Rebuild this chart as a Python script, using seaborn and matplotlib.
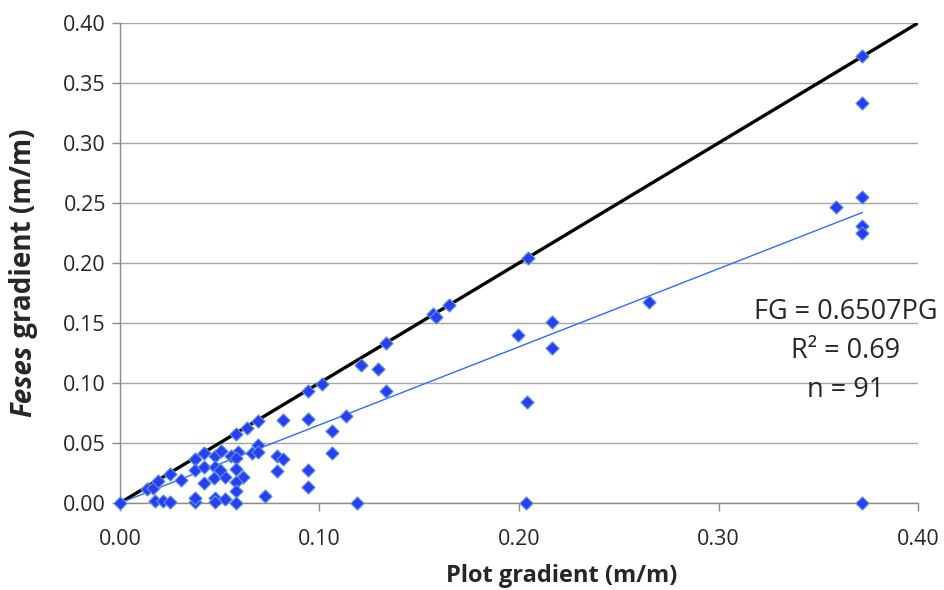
import numpy as np
import pandas as pd
import matplotlib
matplotlib.use("Agg")
import matplotlib.pyplot as plt
from matplotlib.ticker import MultipleLocator, FormatStrFormatter
import seaborn as sns

# plot gradient (x) and feses gradient (y)
plot_gradient = [
    0.000, 0.0137, 0.0167, 0.0192, 0.0251, 0.0304, 0.0376, 0.0423, 0.0376, 0.0423,
    0.0423, 0.0478, 0.0505, 0.0476, 0.0471, 0.0526, 0.0501, 0.0581, 0.0635, 0.0690,
    0.0593, 0.0556, 0.0581, 0.0581, 0.0618, 0.0581, 0.0581, 0.0660, 0.0690, 0.0690,
    0.0727, 0.0175, 0.0214, 0.0251, 0.0376, 0.0376, 0.0478, 0.0478, 0.0526, 0.0581,
    0.1333, 0.1208, 0.1295, 0.1333, 0.1011, 0.0944, 0.0815, 0.0944, 0.1133, 0.1061,
    0.0789, 0.0819, 0.0789, 0.1061, 0.0944, 0.0944, 0.1186,
    0.2043, 0.1570, 0.1584, 0.1651, 0.2167, 0.1997, 0.2167,
    0.3721, 0.3721, 0.3721, 0.3589, 0.3721, 0.3721, 0.2652,
    0.2038, 0.2035, 0.3721,
]
feses_gradient = [
    0.000, 0.0114, 0.0122, 0.0183, 0.0239, 0.0192, 0.0364, 0.0419, 0.0275, 0.0297,
    0.0169, 0.0392, 0.0436, 0.0297, 0.0206, 0.0219, 0.0275, 0.0572, 0.0628, 0.0683,
    0.0428, 0.0392, 0.0372, 0.0283, 0.0214, 0.0172, 0.0103, 0.0414, 0.0483, 0.0428,
    0.0061, 0.0020, 0.0020, 0.0006, 0.0005, 0.0040, 0.0040, 0.0005, 0.0030, 0.000,
    0.1330, 0.1150, 0.1114, 0.0936, 0.0989, 0.0936, 0.0692, 0.0700, 0.0725, 0.0603,
    0.0392, 0.0367, 0.0267, 0.0414, 0.0275, 0.0131, 0.000,
    0.2044, 0.1572, 0.1553, 0.1650, 0.1511, 0.1400, 0.1289,
    0.3728, 0.3336, 0.2553, 0.2464, 0.2308, 0.2253, 0.1675,
    0.0844, 0.000, 0.000,
]

slope = 0.6507
fit_label = ["FG = 0.6507PG", "R\u00b2 = 0.69", "n = 91"]

df = pd.DataFrame({"pg": plot_gradient, "fg": feses_gradient})

sns.set_style("white")
plt.rcParams["font.family"] = ["Open Sans", "DejaVu Sans"]

fig = plt.figure(figsize=(9.44, 5.90), dpi=100)
ax = fig.add_axes([0.127, 0.1475, 0.8455, 0.8135])

# 1:1 line and fitted line through origin
ax.plot([0, 0.4], [0, 0.4], color="black", lw=2.4, zorder=2)
xmax = max(plot_gradient)
ax.plot([0, xmax], [0, slope * xmax], color="#2f6bff", lw=1.0, zorder=2)

sns.scatterplot(data=df, x="pg", y="fg", ax=ax, marker="D", s=45,
                color="#2a3df5", edgecolor="#5b9bd5", linewidth=0.8,
                zorder=3, clip_on=False)

ax.set_xlim(0, 0.4)
ax.set_ylim(0, 0.4)
ax.xaxis.set_major_locator(MultipleLocator(0.1))
ax.yaxis.set_major_locator(MultipleLocator(0.05))
ax.xaxis.set_major_formatter(FormatStrFormatter("%.2f"))
ax.yaxis.set_major_formatter(FormatStrFormatter("%.2f"))
ax.grid(axis="y", color="#a6a6a6", lw=1.0)
ax.set_axisbelow(True)
for side in ["top", "right"]:
    ax.spines[side].set_visible(False)
for side in ["left", "bottom"]:
    ax.spines[side].set_color("#8c8c8c")
    ax.spines[side].set_linewidth(1.0)
ax.tick_params(axis="both", direction="out", length=6, width=1.0,
               color="#8c8c8c", labelsize=15.5, pad=4)
ax.tick_params(axis="x", pad=13)
ax.tick_params(left=True, bottom=True)

ax.set_xlabel("")
ax.set_ylabel("")
fig.text(562 / 944, 1 - 576 / 590, "Plot gradient (m/m)", fontsize=17,
         fontweight="bold", ha="center", va="center")

# y label: italic "Feses" followed by bold upright text
t1 = fig.text(0.025, 1 - 417 / 590, "Feses", rotation=90, fontsize=20,
              fontweight="bold", fontstyle="italic", ha="center", va="bottom")
ax.annotate(" gradient (m/m)", xy=(0.5, 1.0), xycoords=t1, rotation=90,
            fontsize=20, fontweight="bold", ha="center", va="bottom")

for i, line in enumerate(fit_label):
    ax.text(0.3639, 0.159 - i * 0.0325, line, fontsize=19.5,
            ha="center", va="center")

fig.savefig("out.png", dpi=100)
